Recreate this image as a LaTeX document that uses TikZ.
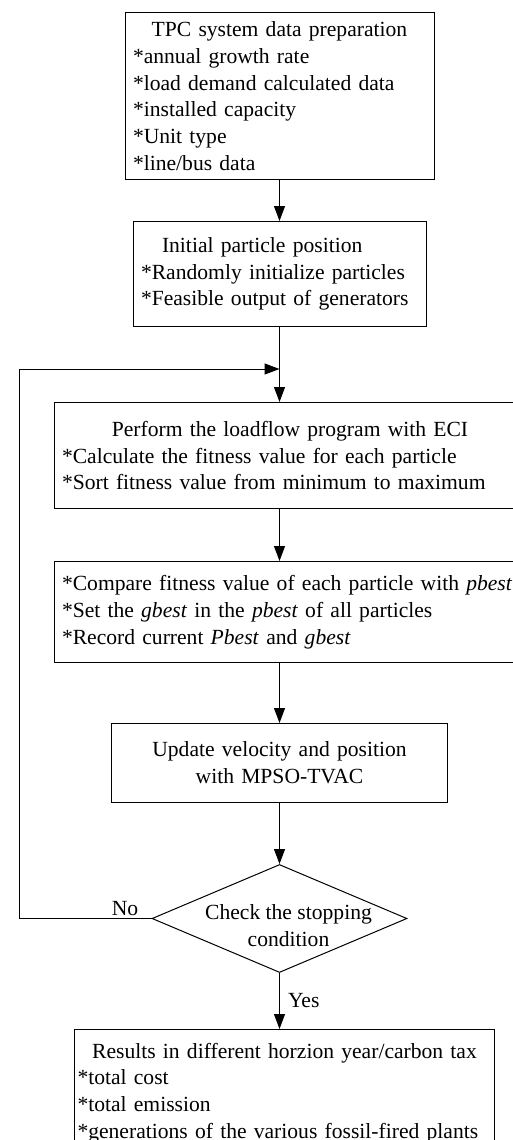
\documentclass[tikz,border=0pt]{standalone}
\usepackage{fontspec}
\setmainfont{Liberation Serif}
\usetikzlibrary{arrows.meta,positioning,shapes.geometric}

\begin{document}
\begin{tikzpicture}[
    x=1pt, y=1pt,
    >={Triangle[length=15pt,width=11pt]},
    line width=1pt,
    font=\fontsize{21.6}{26.7}\selectfont,
    process/.style={
		rectangle,
		draw=black,
		align=left,
		inner xsep=8pt,
		inner ysep=0pt,
		fill=white
	},
	decision/.style={
		diamond,
		draw=black,
		aspect=2.36,
		inner sep=0pt,
		minimum width=255pt,
		minimum height=108pt,
		fill=white
	},
	tag/.style={
	  inner sep=2pt
    }
  ]

\useasboundingbox (0,0) rectangle (513,-1140);

% // data preparation and initialisation
\node [process, anchor=north, text width=293pt, minimum height=167pt] (prep) at (279.5,-12)
 {%
  \makebox[\linewidth]{TPC system data preparation}\\{}
  *annual growth rate\\{}
  *load demand calculated data\\{}
  *installed capacity\\{}
  *Unit type\\{}
  *line/bus data
 };
\node [process, below=41pt of prep, text width=277pt, minimum height=105pt] (init)
 {%
  \hspace*{21pt}Initial particle position\\{}
  *Randomly initialize particles\\{}
  *Feasible output of generators
 };

% // the PSO loop
\node [process, below=75pt of init, xshift=22.5pt, text width=480pt, minimum height=106pt] (loadflow)
 {%
  \makebox[456pt]{Perform the loadflow program with ECI}\\{}
  *Calculate the fitness value for each particle\\{}
  *Sort fitness value from minimum to maximum
 };
\node [process, below=52pt of loadflow, text width=480pt, minimum height=101pt] (compare)
 {%
  *Compare fitness value of each particle with \textit{pbest}\\{}
  *Set the \textit{gbest} in the \textit{pbest} of all particles\\{}
  *Record current \textit{Pbest} and \textit{gbest}
 };
\node [process, below=60pt of compare.south -| init.south, align=center, text width=320pt, minimum height=79pt] (update)
 {Update velocity and position\\ with MPSO-TVAC};
\node [decision, below=61pt of update] (check)
 {\raisebox{-14pt}[0pt][0pt]{\hspace*{18pt}\begin{tabular}{@{}c@{}}Check the stopping\\ condition\end{tabular}}};

% // results
\node [process, below=56pt of check, xshift=5pt, inner xsep=3pt, text width=414pt, minimum height=127pt] (results)
 {%
  \makebox[\linewidth]{Results in different horzion year/carbon tax}\\{}
  *total cost\\{}
  *total emission\\{}
  *generations of the various fossil-fired plants
 };

\coordinate [below=42pt of init.south] (join);

 \draw [->] (prep) -- (init);
 \draw [->] (init) -- (init.south |- loadflow.north);
 \draw [->] (init.south |- loadflow.south) -- (init.south |- compare.north);
 \draw [->] (update.north |- compare.south) -- (update);
 \draw [->] (update) -- (check);
 \draw [->] (check) -- node [tag, right, xshift=6pt] {Yes} (check.south |- results.north);
 \draw [->] (check.west) -- node [tag, above, pos=0.2] {No} ++(-132,0) |- (join);

\end{tikzpicture}
\end{document}
